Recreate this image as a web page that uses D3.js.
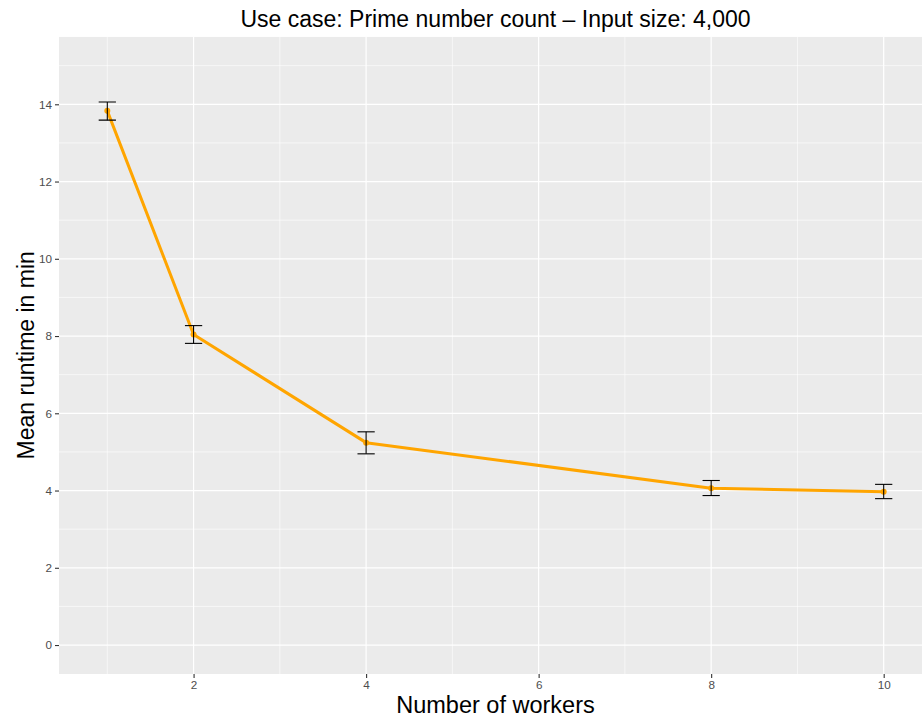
<!DOCTYPE html>
<html><head><meta charset="utf-8">
<script src="https://cdn.jsdelivr.net/npm/d3@7"></script>
<style>body{margin:0;background:#fff}svg{display:block}</style>
</head><body>
<script>
const workers = [1, 2, 4, 8, 10];
const meanRuntime = [13.83, 8.04, 5.24, 4.06, 3.97];
const errLower = [13.59, 7.81, 4.95, 3.87, 3.79];
const errUpper = [14.06, 8.27, 5.52, 4.26, 4.16];
const xTicks = [2, 4, 6, 8, 10];
const yTicks = [0, 2, 4, 6, 8, 10, 12, 14];
const titleText = "Use case: Prime number count \u2013 Input size: 4,000";
const xLabel = "Number of workers";
const yLabel = "Mean runtime in min";

const W = 922, H = 722;
const font = "'Liberation Sans', Arial, Helvetica, sans-serif";
const svg = d3.select("body").append("svg").attr("width", W).attr("height", H);

const x = d3.scaleLinear().domain([0.44, 10.56]).range([59, 932]);
const y = d3.scaleLinear().domain([-0.75, 15.75]).range([674, 36.7]);

svg.append("clipPath").attr("id", "pc").append("rect")
  .attr("x", 59).attr("y", 36.7).attr("width", 873).attr("height", 674 - 36.7);

const g = svg.append("g").attr("clip-path", "url(#pc)");
g.append("rect").attr("x", 59).attr("y", 36.7).attr("width", 873).attr("height", 674 - 36.7).attr("fill", "#EBEBEB");

const xMinor = [1, 3, 5, 7, 9];
const yMinor = [1, 3, 5, 7, 9, 11, 13, 15];
g.selectAll(".ymin").data(yMinor).join("line")
  .attr("x1", 59).attr("x2", 932).attr("y1", d => y(d)).attr("y2", d => y(d))
  .attr("stroke", "#fff").attr("stroke-width", 0.6);
g.selectAll(".xmin").data(xMinor).join("line")
  .attr("y1", 36.7).attr("y2", 674).attr("x1", d => x(d)).attr("x2", d => x(d))
  .attr("stroke", "#fff").attr("stroke-width", 0.6);
g.selectAll(".ymaj").data(yTicks).join("line")
  .attr("x1", 59).attr("x2", 932).attr("y1", d => y(d)).attr("y2", d => y(d))
  .attr("stroke", "#fff").attr("stroke-width", 1.2);
g.selectAll(".xmaj").data(xTicks).join("line")
  .attr("y1", 36.7).attr("y2", 674).attr("x1", d => x(d)).attr("x2", d => x(d))
  .attr("stroke", "#fff").attr("stroke-width", 1.2);

const data = workers.map((w, i) => ({w, m: meanRuntime[i], lo: errLower[i], hi: errUpper[i]}));

g.append("path").datum(data)
  .attr("d", d3.line().x(d => x(d.w)).y(d => y(d.m)))
  .attr("fill", "none").attr("stroke", "#FFA500").attr("stroke-width", 3)
  .attr("stroke-linejoin", "round");

g.selectAll(".pt").data(data).join("circle")
  .attr("cx", d => x(d.w)).attr("cy", d => y(d.m)).attr("r", 3).attr("fill", "#FFA500");

const eb = g.selectAll(".eb").data(data).join("g").attr("stroke", "#000").attr("stroke-width", 1.1).attr("fill", "none");
eb.append("line").attr("x1", d => x(d.w)).attr("x2", d => x(d.w)).attr("y1", d => y(d.lo)).attr("y2", d => y(d.hi));
eb.append("line").attr("x1", d => x(d.w - 0.1)).attr("x2", d => x(d.w + 0.1)).attr("y1", d => y(d.lo)).attr("y2", d => y(d.lo));
eb.append("line").attr("x1", d => x(d.w - 0.1)).attr("x2", d => x(d.w + 0.1)).attr("y1", d => y(d.hi)).attr("y2", d => y(d.hi));

// Axes
const xAxis = svg.append("g").attr("transform", "translate(0,674)")
  .call(d3.axisBottom(x).tickValues(xTicks).tickSize(4).tickPadding(3).tickFormat(d3.format("d")));
xAxis.select(".domain").remove();
xAxis.selectAll("line").attr("stroke", "#333").attr("stroke-width", 1.1);
xAxis.selectAll("text").attr("fill", "#4D4D4D").style("font-family", font).style("font-size", "11.7px");

const yAxis = svg.append("g").attr("transform", "translate(59,0)")
  .call(d3.axisLeft(y).tickValues(yTicks).tickSize(4).tickPadding(3).tickFormat(d3.format("d")));
yAxis.select(".domain").remove();
yAxis.selectAll("line").attr("stroke", "#333").attr("stroke-width", 1.1);
yAxis.selectAll("text").attr("fill", "#4D4D4D").style("font-family", font).style("font-size", "11.7px");

svg.append("text").attr("x", (59 + 932) / 2).attr("y", 27.3).attr("text-anchor", "middle")
  .style("font-family", font).style("font-size", "23px").attr("fill", "#000").text(titleText);
svg.append("text").attr("x", (59 + 932) / 2).attr("y", 713.3).attr("text-anchor", "middle")
  .style("font-family", font).style("font-size", "23.5px").attr("fill", "#000").text(xLabel);
svg.append("text").attr("transform", `translate(34,${(36.7 + 674) / 2}) rotate(-90)`).attr("text-anchor", "middle")
  .style("font-family", font).style("font-size", "23px").attr("fill", "#000").text(yLabel);
</script>
</body></html>
